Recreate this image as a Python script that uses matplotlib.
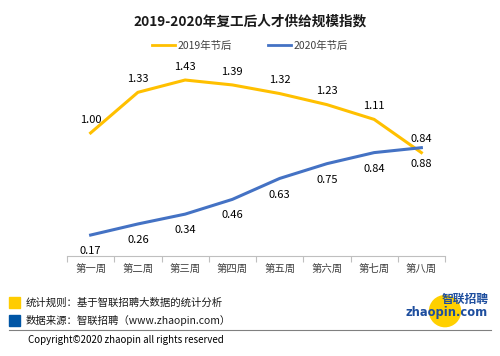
import matplotlib.pyplot as plt
from matplotlib.patches import Rectangle, Ellipse
from matplotlib.lines import Line2D

plt.rcParams['font.family'] = ['Noto Sans CJK SC', 'DejaVu Sans']

weeks = ['第一周', '第二周', '第三周', '第四周', '第五周', '第六周', '第七周', '第八周']
y2019 = [1.00, 1.33, 1.43, 1.39, 1.32, 1.23, 1.11, 0.84]
y2020 = [0.17, 0.26, 0.34, 0.46, 0.63, 0.75, 0.84, 0.88]
names = ['2019年节后', '2020年节后']

c19 = '#FFC000'
c20 = '#4472C4'

fig = plt.figure(figsize=(5, 3.56), dpi=100)
ax = fig.add_axes([0.134, 0.281, 0.756, 0.553])
x = list(range(len(weeks)))
ax.plot(x, y2019, color=c19, lw=2.2)
ax.plot(x, y2020, color=c20, lw=2.2)

for i in x:
    ax.annotate(f'{y2019[i]:.2f}', (i, y2019[i]), xytext=(0, 6), textcoords='offset points',
                ha='center', va='bottom', fontsize=8, color='#000000')
    ax.annotate(f'{y2020[i]:.2f}', (i, y2020[i]), xytext=(0, -8), textcoords='offset points',
                ha='center', va='top', fontsize=8, color='#000000')

ax.set_xlim(-0.5, len(weeks) - 0.5)
ax.set_ylim(0, 1.6)
ax.set_yticks([])
ax.set_xticks([i - 0.5 for i in range(len(weeks) + 1)], minor=False)
ax.set_xticklabels([])
ax.set_xticks(x, minor=True)
ax.set_xticklabels(weeks, minor=True, fontsize=7.5, color='#404040')
ax.tick_params(axis='x', which='major', length=4, color='#BFBFBF')
ax.tick_params(axis='x', which='minor', length=0, pad=6)
for s in ['top', 'right', 'left']:
    ax.spines[s].set_visible(False)
ax.spines['bottom'].set_color('#BFBFBF')

fig.text(0.5, 0.94, '2019-2020年复工后人才供给规模指数', ha='center', va='center',
         fontsize=9.8, fontweight='bold', color='#1a1a1a')

handles = [Line2D([], [], color=c19, lw=2), Line2D([], [], color=c20, lw=2)]
fig.legend(handles, names, loc='center', bbox_to_anchor=(0.5, 0.872), ncol=2, frameon=False,
           fontsize=7.5, handlelength=2.2, handletextpad=0.2, columnspacing=3.5,
           labelcolor='#404040')

# footer
fig.patches.append(Rectangle((0.018, 0.135), 0.022, 0.031, transform=fig.transFigure,
                             color='#FFCC00'))
fig.patches.append(Rectangle((0.018, 0.085), 0.022, 0.031, transform=fig.transFigure,
                             color='#0055A5'))
fig.text(0.052, 0.151, '统计规则：基于智联招聘大数据的统计分析', fontsize=7.5, va='center', color='#1a1a1a')
fig.text(0.052, 0.099, '数据来源：智联招聘（www.zhaopin.com）', fontsize=7.5, va='center', color='#1a1a1a')
fig.add_artist(Line2D([0.018, 0.982], [0.073, 0.073], transform=fig.transFigure,
                      color='#808080', lw=0.8))
fig.text(0.055, 0.044, 'Copyright©2020 zhaopin all rights reserved', fontsize=7, va='center',
         color='#000000')

# logo
fig.patches.append(Ellipse((0.89, 0.126), 0.062, 0.087, transform=fig.transFigure,
                           color='#FFD000'))
fig.text(0.93, 0.158, '智联招聘', fontsize=8.5, fontweight='bold', color='#1E4E9E',
         ha='center', va='center', style='italic')
fig.text(0.893, 0.122, 'zhaopin.com', fontsize=8.3, fontweight='bold', color='#1E4E9E',
         ha='center', va='center', family='DejaVu Sans')

fig.savefig('out.png', dpi=100)
